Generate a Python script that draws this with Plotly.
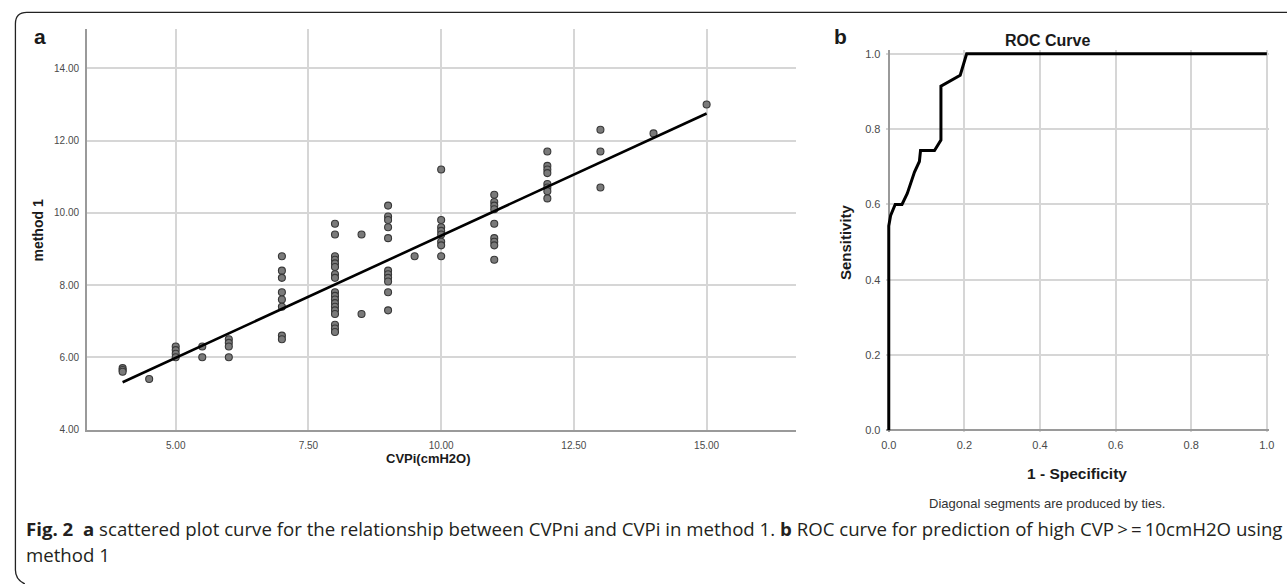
import plotly.graph_objects as go

W, H = 1287, 584

# ---------------- data: panel a (scatter) ----------------
cvpi = [4, 4, 4, 4.5,
        5, 5, 5, 5,
        5.5, 5.5,
        6, 6, 6, 6,
        7, 7, 7, 7, 7, 7, 7, 7,
        8, 8, 8, 8, 8, 8, 8, 8, 8, 8, 8, 8, 8, 8, 8, 8, 8, 8,
        8.5, 8.5,
        9, 9, 9, 9, 9, 9, 9, 9, 9, 9, 9,
        9.5,
        10, 10, 10, 10, 10, 10, 10, 10,
        11, 11, 11, 11, 11, 11, 11, 11, 11,
        12, 12, 12, 12, 12, 12, 12, 12,
        13, 13, 13,
        14,
        15]
method1 = [5.7, 5.65, 5.6, 5.4,
           6.3, 6.2, 6.1, 6.0,
           6.3, 6.0,
           6.5, 6.4, 6.3, 6.0,
           8.8, 8.4, 8.2, 7.8, 7.6, 7.4, 6.6, 6.5,
           9.7, 9.4, 8.8, 8.7, 8.6, 8.5, 8.3, 8.2, 7.8, 7.7, 7.6, 7.5, 7.4, 7.3, 7.2, 6.9, 6.8, 6.7,
           9.4, 7.2,
           10.2, 9.9, 9.8, 9.6, 9.3, 8.4, 8.3, 8.2, 8.1, 7.8, 7.3,
           8.8,
           11.2, 9.8, 9.6, 9.5, 9.4, 9.2, 9.1, 8.8,
           10.5, 10.3, 10.2, 10.1, 9.7, 9.3, 9.2, 9.1, 8.7,
           11.7, 11.3, 11.2, 11.1, 10.8, 10.7, 10.6, 10.4,
           12.3, 11.7, 10.7,
           12.2,
           13.0]
fit_x = [4.0, 15.0]
fit_y = [5.31, 12.75]

a_xticks = [5, 7.5, 10, 12.5, 15]
a_xlabels = ["5.00", "7.50", "10.00", "12.50", "15.00"]
a_yticks = [4, 6, 8, 10, 12, 14]
a_ylabels = ["4.00", "6.00", "8.00", "10.00", "12.00", "14.00"]

# ---------------- data: panel b (ROC) ----------------
fpr = [0, 0, 0.005, 0.017, 0.035, 0.049, 0.068, 0.081, 0.084, 0.121, 0.138, 0.138, 0.189, 0.206, 1.0]
tpr = [0, 0.543, 0.571, 0.600, 0.600, 0.629, 0.686, 0.714, 0.743, 0.743, 0.771, 0.914, 0.943, 1.0, 1.0]

b_ticks = [0, 0.2, 0.4, 0.6, 0.8, 1.0]
b_labels = ["0.0", "0.2", "0.4", "0.6", "0.8", "1.0"]


def px(x):
    return x / W


def py(y):
    return 1 - y / H


fig = go.Figure()

fig.add_trace(go.Scatter(
    x=cvpi, y=method1, mode="markers",
    marker=dict(size=7, color="#7a7a7a", line=dict(color="#383838", width=1.1)),
    xaxis="x", yaxis="y", showlegend=False, hoverinfo="skip"))
fig.add_trace(go.Scatter(
    x=fit_x, y=fit_y, mode="lines",
    line=dict(color="black", width=2.6),
    xaxis="x", yaxis="y", showlegend=False, hoverinfo="skip"))
fig.add_trace(go.Scatter(
    x=fpr, y=tpr, mode="lines",
    line=dict(color="black", width=3),
    xaxis="x2", yaxis="y2", showlegend=False, hoverinfo="skip"))

grid = "#d6d6d6"
axcol = "#9a9a9a"
tickfont = dict(family="Liberation Sans, Arial, sans-serif", size=10, color="#4a4a4a")
tickfont_b = dict(family="Liberation Sans, Arial, sans-serif", size=11, color="#4a4a4a")

fig.update_layout(
    width=W, height=H,
    margin=dict(l=0, r=0, t=0, b=0),
    paper_bgcolor="white", plot_bgcolor="white",
    xaxis=dict(domain=[px(82.7), px(797)], range=[3.33, 16.68],
               tickvals=a_xticks, ticktext=a_xlabels,
               showgrid=True, gridcolor=grid, gridwidth=1.5,
               zeroline=False, showline=True, linecolor=axcol, linewidth=2,
               ticks="", ticklabelstandoff=5, tickfont=tickfont, anchor="y"),
    yaxis=dict(domain=[py(433.5), py(27)], range=[4, 15.1],
               tickvals=a_yticks, ticktext=a_ylabels,
               showgrid=True, gridcolor=grid, gridwidth=1.5,
               zeroline=False, showline=True, linecolor=axcol, linewidth=2,
               ticks="", ticklabelstandoff=4, tickfont=tickfont, anchor="x"),
    xaxis2=dict(domain=[px(888.4), px(1274)], range=[-0.006, 1.006],
                tickvals=b_ticks, ticktext=b_labels,
                showgrid=True, gridcolor=grid, gridwidth=1.5,
                zeroline=True, zerolinecolor=axcol, zerolinewidth=2,
                showline=False, ticks="", ticklabelstandoff=5,
                tickfont=tickfont_b, anchor="y2"),
    yaxis2=dict(domain=[py(436.2), py(48.7)], range=[-0.005, 1.01],
                tickvals=b_ticks, ticktext=b_labels,
                showgrid=True, gridcolor=grid, gridwidth=1.5,
                zeroline=True, zerolinecolor=axcol, zerolinewidth=2,
                showline=False, ticks="", ticklabelstandoff=5,
                tickfont=tickfont_b, anchor="x2"),
)

# border of the figure box (rounded top-left corner, runs off right and bottom)
path = (f"M {px(1300)},{py(10.5)} L {px(22)},{py(10.5)} "
        f"Q {px(10.5)},{py(10.5)} {px(10.5)},{py(22)} "
        f"L {px(10.5)},{py(576)} Q {px(10.5)},{py(586)} {px(20)},{py(590)}")
fig.add_shape(type="path", path=path, xref="paper", yref="paper",
              line=dict(color="#222222", width=1.3))

bold = "Liberation Sans, Arial, sans-serif"


def ann(text, x, y, size, bold_font=True, angle=0, color="#1a1a1a", xanchor="center", family=bold):
    t = f"<b>{text}</b>" if bold_font else text
    fig.add_annotation(text=t, x=px(x), y=py(y), xref="paper", yref="paper",
                       showarrow=False, xanchor=xanchor, yanchor="middle",
                       textangle=angle, font=dict(family=family, size=size, color=color))


ann("a", 35, 35, 21)
ann("b", 842, 35, 21)
ann("method 1", 33, 232, 14, angle=-90)
ann("CVPi(cmH2O)", 427, 463, 13)
ann("ROC Curve", 1051, 39, 16)
ann("Sensitivity", 847, 243, 15, angle=-90)
ann("1 - Specificity", 1080, 478, 15.5)
ann("Diagonal segments are produced by ties.", 1050, 508, 13, bold_font=False, color="#333333")

cap_font = "Open Sans, Noto Sans, sans-serif"
line1 = ("<b>Fig. 2</b>\u00a0\u00a0<b>a</b> scattered plot curve for the relationship between CVPni and CVPi "
         "in method 1. <b>b</b> ROC curve for prediction of high CVP\u2009>\u2009=\u200910cmH2O using")
ann(line1, 19, 534, 18.65, bold_font=False, color="#231f20", xanchor="left", family=cap_font)
ann("method 1", 19, 560, 18.65, bold_font=False, color="#231f20", xanchor="left", family=cap_font)

fig.write_html("out.html", config={"displayModeBar": False},
               post_script="document.body.style.margin='0px';")
